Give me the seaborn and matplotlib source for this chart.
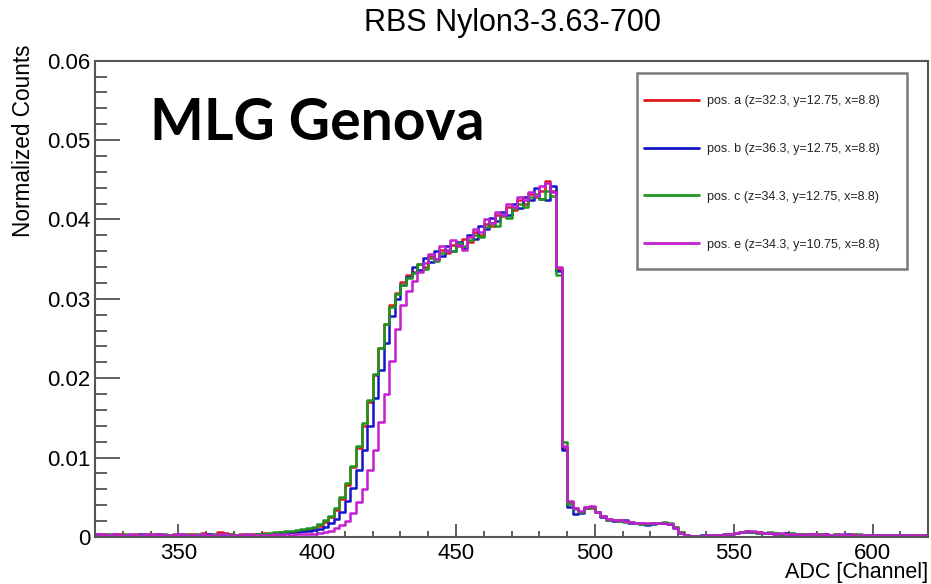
import seaborn as sns
import matplotlib.pyplot as plt
import pandas as pd
import numpy as np
from matplotlib.lines import Line2D
from matplotlib.patches import Rectangle
from matplotlib.ticker import MultipleLocator, FuncFormatter

# histogram contents in units of 1e-4, 2-channel bins from 320 to 620
pos_a = [3, 4, 3, 3, 4, 2, 3, 4, 3, 3, 4, 3, 2, 3, 4, 3, 3, 4, 3, 5, 4, 3, 6, 5, 4, 3, 4, 3, 4, 3, 5, 4, 5, 6, 5, 6, 7, 8,
         9, 11, 14, 19, 25, 34, 48, 66, 88, 112, 140, 170, 204, 238, 268, 292, 308, 321, 330, 334, 344, 340, 354, 350,
         362, 358, 368, 366, 376, 372, 384, 380, 394, 392, 406, 404, 416, 412, 424, 420, 432, 428, 436, 448, 436, 338, 112,
         44, 36, 32, 38, 37, 32, 26, 23, 21, 21, 20, 19, 18, 17, 16, 17, 18, 17, 16, 12, 6, 2, 1,
         1, 1, 2, 2, 3, 3, 4, 5, 6, 7, 6, 6, 5, 5, 5, 4, 5, 4, 4, 4, 4, 3, 4, 4, 3, 4, 3, 3, 4, 3, 3, 3, 2, 3, 3, 2, 2, 3, 2, 2, 2, 2]
pos_b = [4, 3, 3, 4, 3, 3, 2, 3, 4, 3, 3, 4, 3, 3, 3, 4, 3, 3, 2, 3, 4, 3, 3, 4, 3, 3, 2, 3, 3, 4, 3, 4, 4, 5, 5, 6, 6, 7,
         8, 9, 10, 13, 17, 23, 32, 45, 62, 84, 110, 140, 175, 210, 245, 278, 300, 318, 328, 340, 336, 352, 346, 360,
         354, 366, 360, 372, 364, 380, 376, 392, 388, 402, 398, 410, 406, 420, 414, 428, 424, 440, 426, 424, 442, 335, 110,
         38, 29, 30, 36, 38, 31, 25, 22, 20, 20, 21, 18, 17, 16, 15, 16, 17, 17, 16, 11, 5, 2, 1,
         1, 2, 2, 3, 3, 4, 4, 5, 6, 6, 6, 5, 5, 5, 4, 4, 5, 4, 4, 3, 4, 4, 3, 4, 3, 3, 3, 4, 3, 3, 2, 3, 3, 2, 3, 2, 2, 2, 2, 2, 1, 2]
pos_c = [3, 3, 4, 3, 3, 4, 3, 3, 2, 4, 3, 3, 4, 3, 3, 3, 4, 3, 4, 3, 3, 4, 3, 3, 4, 3, 3, 4, 3, 4, 4, 5, 6, 6, 7, 8, 9, 10,
         11, 12, 16, 21, 27, 36, 50, 68, 90, 115, 143, 172, 205, 238, 268, 290, 306, 318, 326, 332, 344, 338, 352, 348,
         358, 362, 360, 370, 366, 374, 380, 378, 390, 396, 392, 406, 402, 414, 420, 416, 428, 432, 426, 436, 430, 330, 120,
         42, 35, 31, 37, 38, 32, 26, 22, 21, 20, 19, 19, 18, 16, 16, 17, 18, 19, 17, 12, 6, 2, 1,
         1, 1, 2, 3, 3, 4, 4, 5, 6, 7, 6, 5, 5, 6, 5, 4, 4, 5, 4, 4, 3, 4, 4, 3, 3, 4, 3, 3, 3, 4, 3, 2, 3, 3, 2, 3, 2, 2, 3, 2, 2, 2]
pos_e = [4, 4, 3, 4, 3, 3, 4, 3, 3, 4, 3, 4, 3, 3, 3, 4, 3, 3, 3, 4, 3, 3, 4, 4, 3, 3, 3, 4, 3, 3, 3, 3, 4, 3, 4, 3, 4, 4,
         4, 4, 5, 6, 8, 11, 15, 20, 30, 44, 60, 85, 110, 145, 180, 222, 262, 292, 310, 322, 334, 345, 356, 350,
         366, 360, 374, 368, 362, 378, 388, 384, 400, 396, 410, 406, 420, 416, 428, 424, 434, 430, 442, 446, 434, 340, 115,
         45, 37, 33, 38, 39, 32, 26, 23, 22, 21, 20, 19, 18, 17, 17, 17, 17, 17, 16, 11, 5, 2, 1,
         1, 1, 2, 2, 3, 4, 4, 5, 6, 7, 7, 6, 5, 5, 4, 5, 4, 4, 4, 3, 4, 4, 3, 4, 3, 3, 4, 3, 3, 3, 2, 3, 3, 3, 2, 2, 3, 2, 2, 2, 2, 2]

labels = ["pos. a (z=32.3, y=12.75, x=8.8)",
          "pos. b (z=36.3, y=12.75, x=8.8)",
          "pos. c (z=34.3, y=12.75, x=8.8)",
          "pos. e (z=34.3, y=10.75, x=8.8)"]
colors = ["#dd1c1c", "#1414c8", "#1c961c", "#c41ed0"]

centers = np.arange(321, 620, 2)

sns.set_style("white")
plt.rcParams['font.family'] = ['Liberation Sans', 'DejaVu Sans']
plt.rcParams['text.color'] = 'black'

fig = plt.figure(figsize=(9.31, 5.84), dpi=100)
ax = fig.add_axes([0.102, 0.0805, 0.895, 0.8155])

for vals, lab, col in zip([pos_a, pos_b, pos_c, pos_e], labels, colors):
    d = pd.DataFrame({"ADC": centers, "counts": np.array(vals) * 1e-4})
    sns.histplot(data=d, x="ADC", weights="counts", binwidth=2, binrange=(320, 620),
                 element="step", fill=False, color=col, linewidth=1.8, ax=ax)

ax.set_xlim(320, 620)
ax.set_ylim(0, 0.06)
ax.xaxis.set_major_locator(MultipleLocator(50))
ax.xaxis.set_minor_locator(MultipleLocator(10))
ax.yaxis.set_major_locator(MultipleLocator(0.01))
ax.yaxis.set_minor_locator(MultipleLocator(0.002))
ax.yaxis.set_major_formatter(FuncFormatter(lambda v, p: "0" if abs(v) < 1e-9 else f"{v:.2f}"))
ax.tick_params(axis="both", which="both", direction="in", colors="#444444",
               labelcolor="black", labelsize=16, width=1.2, bottom=True, left=True)
ax.tick_params(axis="x", which="major", length=9.5, pad=4)
ax.tick_params(axis="x", which="minor", length=4.5)
ax.tick_params(axis="y", which="major", length=18, pad=3.5)
ax.tick_params(axis="y", which="minor", length=8.5)
for s in ax.spines.values():
    s.set_color("#555555")
    s.set_linewidth(1.5)

ax.set_xlabel("ADC [Channel]", fontsize=15.5, loc="right", color="black")
ax.xaxis.set_label_coords(1.0, -0.052)
ax.set_ylabel("Normalized Counts", fontsize=16.3, loc="top", color="black")
ax.yaxis.set_label_coords(-0.072, 1.035)

fig.text(0.55, 0.947, "RBS Nylon3-3.63-700", ha="center", va="baseline", fontsize=22)
ax.text(0.066, 0.833, "MLG Genova", transform=ax.transAxes, fontsize=41,
        fontweight="bold", family="Lato", va="baseline", ha="left", color="black")

# legend box (ROOT-style, square, grey border)
ax.add_patch(Rectangle((0.6507, 0.5627), 0.3241, 0.4115, transform=ax.transAxes,
                       facecolor="white", edgecolor="#7a7a7a", lw=1.8, zorder=5))
handles = [Line2D([], [], color=c, lw=2) for c in colors]
leg = ax.legend(handles, labels, loc="upper left", bbox_to_anchor=(0.659, 0.928),
                borderaxespad=0, borderpad=0, fontsize=9, handlelength=4.4,
                handletextpad=0.65, labelspacing=2.87, frameon=False)
for t in leg.get_texts():
    t.set_color("#222222")
leg.set_zorder(6)

fig.savefig("out.png", dpi=100)
